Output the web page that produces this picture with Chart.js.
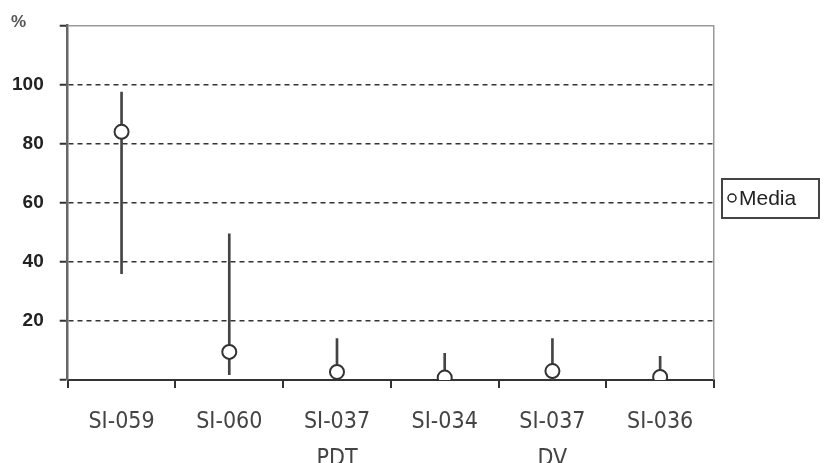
<!DOCTYPE html>
<html>
<head>
<meta charset="utf-8">
<script src="https://cdn.jsdelivr.net/npm/chart.js@4/dist/chart.umd.min.js"></script>
<style>
  html, body { margin: 0; padding: 0; background: #fff; overflow: hidden; }
  #clip { width: 824px; height: 463px; overflow: hidden; }
  #wrap { width: 824px; height: 494px; position: relative; }
</style>
</head>
<body>
<div id="clip"><div id="wrap"><canvas id="chart"></canvas></div></div>
<script>
// values
const categories = [['SI-059'], ['SI-060'], ['SI-037', 'PDT'], ['SI-034'], ['SI-037', 'DV'], ['SI-036']];
const mediaValues = [84, 9.5, 2.7, 0.8, 3, 1];
const lowValues = [36, 1.8, 0, 0, 0, 0];
const highValues = [97.5, 49.5, 14, 9, 14, 8];
const yTicks = [0, 20, 40, 60, 80, 100, 120];

const rangeData = lowValues.map((lo, i) => [lo, highValues[i]]);

// legend box + "%" label
const extras = {
  id: 'extras',
  afterDraw(chart) {
    const ctx = chart.ctx;
    ctx.save();
    ctx.fillStyle = '#555';
    ctx.font = 'bold 17px "Liberation Sans", Arial';
    ctx.textBaseline = 'middle';
    ctx.textAlign = 'left';
    ctx.fillText('%', 11, 22);

    ctx.strokeStyle = '#444';
    ctx.lineWidth = 2;
    ctx.strokeRect(722, 179, 97, 39);
    ctx.beginPath();
    ctx.arc(732, 198, 4, 0, Math.PI * 2);
    ctx.fillStyle = '#fff';
    ctx.fill();
    ctx.lineWidth = 1.5;
    ctx.strokeStyle = '#222';
    ctx.stroke();
    ctx.fillStyle = '#222';
    ctx.font = '21px "Liberation Sans", Arial';
    ctx.fillText(chart.data.datasets[0].label, 739, 199);
    ctx.restore();
  }
};

new Chart(document.getElementById('chart'), {
  type: 'bar',
  data: {
    labels: categories,
    datasets: [
      {
        type: 'line',
        label: 'Media',
        data: mediaValues,
        showLine: false,
        pointRadius: 7,
        pointHoverRadius: 7,
        pointBorderWidth: 2,
        backgroundColor: '#fff',
        borderColor: '#333',
        order: 0
      },
      {
        label: 'range',
        data: rangeData,
        barThickness: 2,
        backgroundColor: '#444',
        borderWidth: 0,
        order: 1
      }
    ]
  },
  options: {
    responsive: true,
    maintainAspectRatio: false,
    animation: false,
    layout: { padding: { left: -4, top: 8, right: 102, bottom: 0 } },
    plugins: { legend: { display: false }, tooltip: { enabled: false } },
    scales: {
      x: {
        offset: true,
        grid: {
          offset: true,
          drawOnChartArea: false,
          color: '#333',
          lineWidth: 2,
          tickLength: 8
        },
        border: { color: '#333', width: 2 },
        ticks: {
          color: '#444',
          padding: 16,
          maxRotation: 0,
          autoSkip: false,
          font: { family: '"DejaVu Sans Condensed", "Liberation Sans", Arial', size: 23, lineHeight: 1.61 }
        }
      },
      y: {
        min: 0,
        max: 120,
        afterBuildTicks(scale) { scale.ticks = yTicks.map(v => ({ value: v })); },
        grid: {
          color: ctx => ctx.tick && ctx.tick.value === 0 ? 'rgba(0,0,0,0)' : (ctx.tick && ctx.tick.value === 120 ? '#999' : '#333'),
          lineWidth: 1.5,
          tickColor: '#333',
          tickWidth: 2,
          tickLength: 8
        },
        border: {
          color: '#666',
          width: 2.5,
          dash: ctx => ctx.tick && ctx.tick.value === 120 ? [] : [5, 4]
        },
        ticks: {
          color: '#222',
          padding: 16,
          font: { family: '"Liberation Sans", Arial', size: 19, weight: 'bold', lineHeight: 1.0 },
          callback: v => (v === 0 || v === 120) ? '' : v
        }
      },
      yR: {
        position: 'right',
        min: 0,
        max: 120,
        grid: { display: false },
        ticks: { display: false },
        border: { color: '#999', width: 1.5 }
      }
    }
  },
  plugins: [extras]
});
</script>
</body>
</html>
